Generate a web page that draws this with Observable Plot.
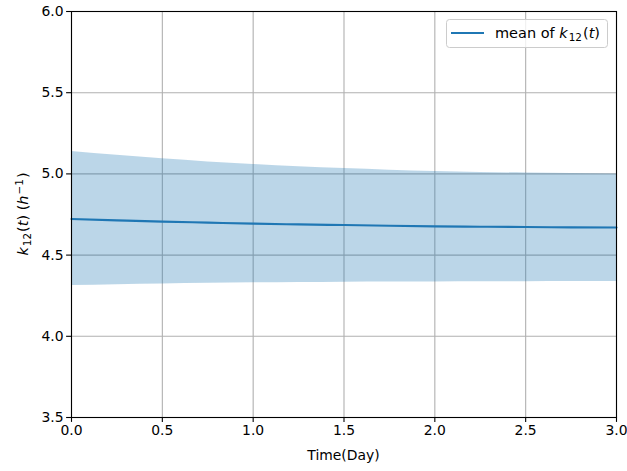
<!DOCTYPE html>
<html>
<head>
<meta charset="utf-8">
<script src="https://cdn.jsdelivr.net/npm/d3@7"></script>
<script src="https://cdn.jsdelivr.net/npm/@observablehq/plot@0.6"></script>
<style>
  html, body { margin: 0; padding: 0; background: #fff; }
  svg { font-family: "DejaVu Sans", sans-serif; }
</style>
</head>
<body>
<div id="chart"></div>
<script>
const times = [0, 0.25, 0.5, 0.75, 1.0, 1.25, 1.5, 1.75, 2.0, 2.25, 2.5, 2.75, 3.0];
const meanK12 = [4.722, 4.714, 4.706, 4.700, 4.694, 4.689, 4.685, 4.681, 4.677, 4.675, 4.673, 4.671, 4.670];
const upperK12 = [5.138, 5.115, 5.093, 5.074, 5.058, 5.044, 5.033, 5.023, 5.015, 5.009, 5.005, 5.002, 5.000];
const lowerK12 = [4.313, 4.318, 4.322, 4.326, 4.329, 4.331, 4.333, 4.334, 4.335, 4.336, 4.336, 4.337, 4.337];
const xTicks = [0, 0.5, 1.0, 1.5, 2.0, 2.5, 3.0];
const yTicks = [3.5, 4.0, 4.5, 5.0, 5.5, 6.0];

const data = times.map((t, i) => ({t, mean: meanK12[i], lo: lowerK12[i], hi: upperK12[i]}));

const W = 627, H = 471;
const mL = 71, mR = 11, mT = 11, mB = 54;
const blue = "#1f77b4";
const fs = 13.9;

const plot = Plot.plot({
  width: W, height: H,
  marginLeft: mL, marginRight: mR, marginTop: mT, marginBottom: mB,
  style: {fontFamily: "DejaVu Sans, sans-serif", fontSize: fs + "px", background: "#fff", overflow: "visible"},
  x: {domain: [0, 3], ticks: xTicks, tickFormat: d3.format(".1f"), label: null},
  y: {domain: [3.5, 6], ticks: yTicks, tickFormat: d3.format(".1f"), label: null},
  marks: [
    Plot.gridX(xTicks, {stroke: "#b0b0b0", strokeOpacity: 1, strokeWidth: 1.1}),
    Plot.gridY(yTicks, {stroke: "#b0b0b0", strokeOpacity: 1, strokeWidth: 1.1}),
    Plot.areaY(data, {x: "t", y1: "lo", y2: "hi", fill: blue, fillOpacity: 0.3, curve: "monotone-x"}),
    Plot.line(data, {x: "t", y: "mean", stroke: blue, strokeWidth: 2.1, curve: "monotone-x"}),
    Plot.frame({stroke: "#000", strokeWidth: 1.1}),
    Plot.axisX(xTicks, {tickSize: 4.9, tickPadding: 3, fontSize: fs, stroke: "#000", strokeWidth: 1.1, fill: "#000", label: null, tickFormat: d3.format(".1f")}),
    Plot.axisY(yTicks, {tickSize: 4.9, tickPadding: 3, fontSize: fs, stroke: "#000", strokeWidth: 1.1, fill: "#000", label: null, tickFormat: d3.format(".1f")})
  ]
});

document.getElementById("chart").appendChild(plot);

const svg = d3.select(plot);
// x-axis label
svg.append("text")
  .attr("x", mL + (W - mL - mR) / 2).attr("y", 460)
  .attr("text-anchor", "middle").style("font-size", fs + "px").attr("fill", "#000")
  .text("Time(Day)");

// y-axis label
const yl = svg.append("text")
  .attr("transform", `translate(28,${mT + (H - mT - mB) / 2}) rotate(-90)`)
  .attr("text-anchor", "middle").style("font-size", (fs + 0.6) + "px").attr("fill", "#000");
yl.append("tspan").attr("font-style", "italic").text("k");
yl.append("tspan").style("font-size", (fs * 0.75) + "px").attr("dy", 3).attr("dx", 1).text("12");
yl.append("tspan").attr("dy", -3).attr("dx", 1).text("(");
yl.append("tspan").attr("font-style", "italic").text("t");
yl.append("tspan").text(") (");
yl.append("tspan").attr("font-style", "italic").text("h");
yl.append("tspan").style("font-size", (fs * 0.75) + "px").attr("dy", -5).attr("dx", 1).text("\u22121");
yl.append("tspan").attr("dy", 5).attr("dx", 1).text(")");

// legend
const lg = svg.append("g");
lg.append("rect").attr("x", 446.5).attr("y", 19.5).attr("width", 161).attr("height", 28)
  .attr("rx", 3).attr("fill", "#fff").attr("fill-opacity", 0.8).attr("stroke", "#cccccc").attr("stroke-width", 1);
lg.append("line").attr("x1", 451).attr("x2", 484).attr("y1", 33).attr("y2", 33)
  .attr("stroke", blue).attr("stroke-width", 2.1);
const lt = lg.append("text").attr("x", 495).attr("y", 38).attr("text-anchor", "start")
  .style("font-size", (fs + 0.6) + "px").attr("fill", "#000");
lt.append("tspan").text("mean of ");
lt.append("tspan").attr("font-style", "italic").text("k");
lt.append("tspan").style("font-size", (fs * 0.75) + "px").attr("dy", 3).attr("dx", 1).text("12");
lt.append("tspan").attr("dy", -3).attr("dx", 1).text("(");
lt.append("tspan").attr("font-style", "italic").text("t");
lt.append("tspan").text(")");
</script>
</body>
</html>
